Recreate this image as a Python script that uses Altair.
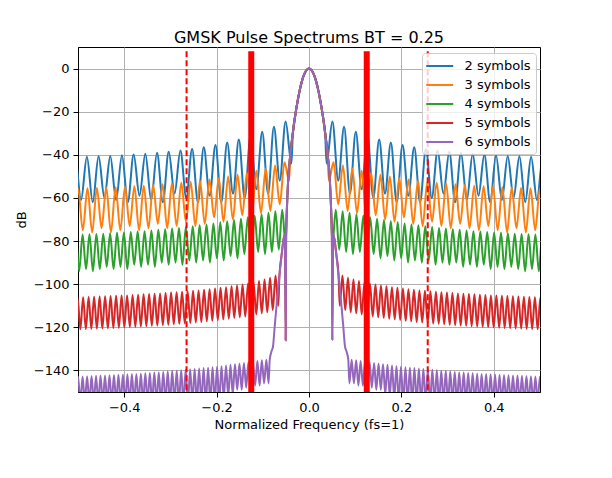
import altair as alt
import pandas as pd

TITLE = "GMSK Pulse Spectrums BT = 0.25"
SERIES = ["2 symbols", "3 symbols", "4 symbols", "5 symbols", "6 symbols"]
COLORS = ["#1f77b4", "#ff7f0e", "#2ca02c", "#d62728", "#9467bd"]

# shared main lobe (positive frequencies)
MAIN_F = [0.0, 0.005, 0.01, 0.015, 0.02, 0.025, 0.03, 0.035, 0.04, 0.045, 0.048,
          0.0495, 0.0505, 0.052, 0.055, 0.059, 0.064, 0.069, 0.074, 0.078, 0.081, 0.085]
MAIN_DB = [0.0, -0.6, -2.5, -5.6, -10.0, -15.5, -22.0, -30.0, -39.0, -51.0, -66.0,
           -77.0, -126.0, -77.0, -79.0, -86.0, -96.0, -107.0, -119.0, -129.0, -131.0, -135.0]

# how many main-lobe points each curve follows before its sidelobes start
MAIN_CUT = [8, 9, 11, 17, 22]
# first sidelobe null and sidelobe spacing (normalized frequency)
LOBE_START = [0.038, 0.043, 0.0505, 0.0665, 0.0875]
LOBE_STEP = [0.0253, 0.0203, 0.0149, 0.0119, 0.0097]

PEAKS_2 = [-24.5, -27.0, -29.3, -31.2, -32.9, -34.3, -35.5, -36.5, -37.3, -38.0,
           -38.6, -39.1, -39.5, -39.9, -40.2, -40.5, -40.7, -40.9, -41.0]
NULLS_2 = [-44, -52, -58, -56, -60, -58, -62, -59, -62, -60,
           -58, -62, -61, -59, -62, -61, -60, -62, -61, -62]

PEAKS_3 = [-43.5, -45.0, -46.3, -47.4, -48.4, -49.3, -50.1, -50.8, -51.4, -52.0,
           -52.5, -52.9, -53.3, -53.7, -54.0, -54.3, -54.6, -54.8, -55.0, -55.2,
           -55.4, -55.5, -55.6]
NULLS_3 = [-52, -63, -66, -67, -69, -68, -70, -71, -69, -72, -73, -71,
           -73, -74, -72, -74, -75, -73, -75, -76, -74, -76, -75, -76]

PEAKS_4 = [-65.5, -66.2, -66.9, -67.6, -68.3, -69.0, -69.6, -70.2, -70.8, -71.3,
           -71.8, -72.3, -72.7, -73.1, -73.5, -73.9, -74.2, -74.5, -74.8, -75.1,
           -75.4, -75.6, -75.8, -76.0, -76.2, -76.4, -76.6, -76.7, -76.8, -76.9, -77.0]
NULLS_4 = [-82, -84, -85, -86, -85, -87, -86, -88, -87, -89, -88, -90, -89, -90, -89, -91,
           -90, -91, -90, -92, -91, -92, -91, -93, -92, -93, -92, -93, -94, -93, -94, -93]

PEAKS_5 = [-96.0, -97.0, -97.8, -98.5, -99.2, -99.7, -100.2, -100.6, -101.0, -101.4,
           -101.7, -102.0, -102.3, -102.6, -102.9, -103.1, -103.3, -103.5, -103.7, -103.9,
           -104.1, -104.3, -104.4, -104.6, -104.7, -104.9, -105.0, -105.2, -105.3, -105.4,
           -105.5, -105.6, -105.7, -105.8, -105.9, -106.0, -106.1]
NULLS_5 = [-110, -112, -113, -113.5, -114, -114.5, -115, -115.3, -115.6, -116,
           -116.3, -116.6, -117, -117.2, -117.5, -117.7, -118, -118.2, -118.4, -118.6,
           -118.8, -119, -119.2, -119.3, -119.5, -119.6, -119.8, -119.9, -120, -120.2,
           -120.3, -120.4, -120.5, -120.6, -120.7, -120.8, -120.9, -121]

PEAKS_6 = [-135.0, -135.3, -135.6, -135.9, -136.2, -136.5, -136.8, -137.1, -137.4, -137.7,
           -138.0, -138.3, -138.5, -138.7, -138.9, -139.1, -139.3, -139.5, -139.7, -139.9,
           -140.1, -140.3, -140.5, -140.7, -140.9, -141.0, -141.2, -141.3, -141.5, -141.6,
           -141.7, -141.8, -141.9, -142.0, -142.1, -142.2, -142.3, -142.4, -142.5, -142.6,
           -142.7, -142.8, -142.9]
NULLS_6 = [-146, -146, -147, -147, -148, -148, -149, -149, -151, -152, -153,
           -154, -155, -155, -155, -155, -155, -155, -155, -155, -155, -155,
           -155, -155, -155, -155, -155, -155, -155, -155, -155, -155, -155,
           -155, -155, -155, -155, -155, -155, -155, -155, -155, -155, -155]

PEAKS = [PEAKS_2, PEAKS_3, PEAKS_4, PEAKS_5, PEAKS_6]
NULLS = [NULLS_2, NULLS_3, NULLS_4, NULLS_5, NULLS_6]

# red marker lines
THICK_F = [-0.125, 0.125]
DASH_F = [-0.265, 0.257]
MARK_TOP = 8
MARK_BOTTOM = -150

rows = []
for s, cut, start, step, pk, nl in zip(SERIES, MAIN_CUT, LOBE_START, LOBE_STEP, PEAKS, NULLS):
    pts = list(zip(MAIN_F[:cut], MAIN_DB[:cut]))
    for k in range(len(pk)):
        pts.append((start + k * step, nl[k]))
        pts.append((start + (k + 0.5) * step, pk[k]))
    pts.append((start + len(pk) * step, nl[len(pk)]))
    full = [(-f, v) for f, v in reversed(pts) if f > 0] + pts
    for f, v in full:
        rows.append({"series": s, "f": f, "db": v})
df = pd.DataFrame(rows)

marks = pd.DataFrame(
    [{"f": f, "db": MARK_TOP, "db2": MARK_BOTTOM, "kind": "thick"} for f in THICK_F]
    + [{"f": f, "db": MARK_TOP, "db2": MARK_BOTTOM, "kind": "dash"} for f in DASH_F]
)

FONT = "DejaVu Sans"
X_TITLE = "Normalized Frequency (fs=1)"
Y_TITLE = "dB"

x_enc = alt.X(
    "f:Q", title=X_TITLE,
    scale=alt.Scale(domain=[-0.5, 0.5], nice=False, zero=False),
    axis=alt.Axis(values=[-0.4, -0.2, 0.0, 0.2, 0.4], format=".1f"),
)
y_enc = alt.Y(
    "db:Q", title=Y_TITLE,
    scale=alt.Scale(domain=[-150, 10], nice=False, zero=False),
    axis=alt.Axis(values=[-140, -120, -100, -80, -60, -40, -20, 0], format="d"),
)
color_enc = alt.Color(
    "series:N", title=None,
    scale=alt.Scale(domain=SERIES, range=COLORS),
    legend=alt.Legend(
        orient="none", legendX=344, legendY=6,
        symbolType="M-1.3,0L2.7,0", symbolSize=182, symbolStrokeWidth=2,
        labelFontSize=13, labelFont=FONT, labelColor="black", labelOffset=21.5,
        rowPadding=4, padding=5,
        fillColor="rgba(255,255,255,0.8)", strokeColor="#cccccc", cornerRadius=3,
    ),
)

layers = []
for s in SERIES:
    layers.append(
        alt.Chart(df)
        .transform_filter(alt.datum.series == s)
        .mark_line(clip=True, strokeWidth=2, interpolate="monotone")
        .encode(x=x_enc, y=y_enc, color=color_enc)
    )

thick = (
    alt.Chart(marks)
    .transform_filter(alt.datum.kind == "thick")
    .mark_rule(color="red", strokeWidth=6, clip=True)
    .encode(x=x_enc, y=y_enc, y2="db2:Q")
)
dash = (
    alt.Chart(marks)
    .transform_filter(alt.datum.kind == "dash")
    .mark_rule(color="red", strokeWidth=2, strokeDash=[6, 3], clip=True)
    .encode(x=x_enc, y=y_enc, y2="db2:Q")
)

chart = (
    alt.layer(*layers, thick, dash)
    .properties(
        width=462, height=345,
        title=alt.TitleParams(TITLE, fontSize=16, font=FONT, fontWeight="normal",
                              color="black", anchor="middle", baseline="alphabetic",
                              frame="group", offset=6, dy=18),
        autosize=alt.AutoSizeParams(type="none"),
        padding={"left": 70, "top": 39, "right": 64, "bottom": 78},
    )
    .configure_view(stroke="black", strokeWidth=1)
    .configure_axis(
        labelFont=FONT, labelFontSize=13, labelColor="black",
        titleFont=FONT, titleFontSize=13, titleFontWeight="normal", titleColor="black",
        tickColor="black", tickSize=5, domainColor="black", domainWidth=1,
        gridColor="#b0b0b0", gridWidth=1, labelPadding=4,
    )
    .configure_axisX(titlePadding=4)
    .configure_axisY(titlePadding=5)
)

chart.save("out.html", embed_options={"renderer": "svg", "actions": False})
